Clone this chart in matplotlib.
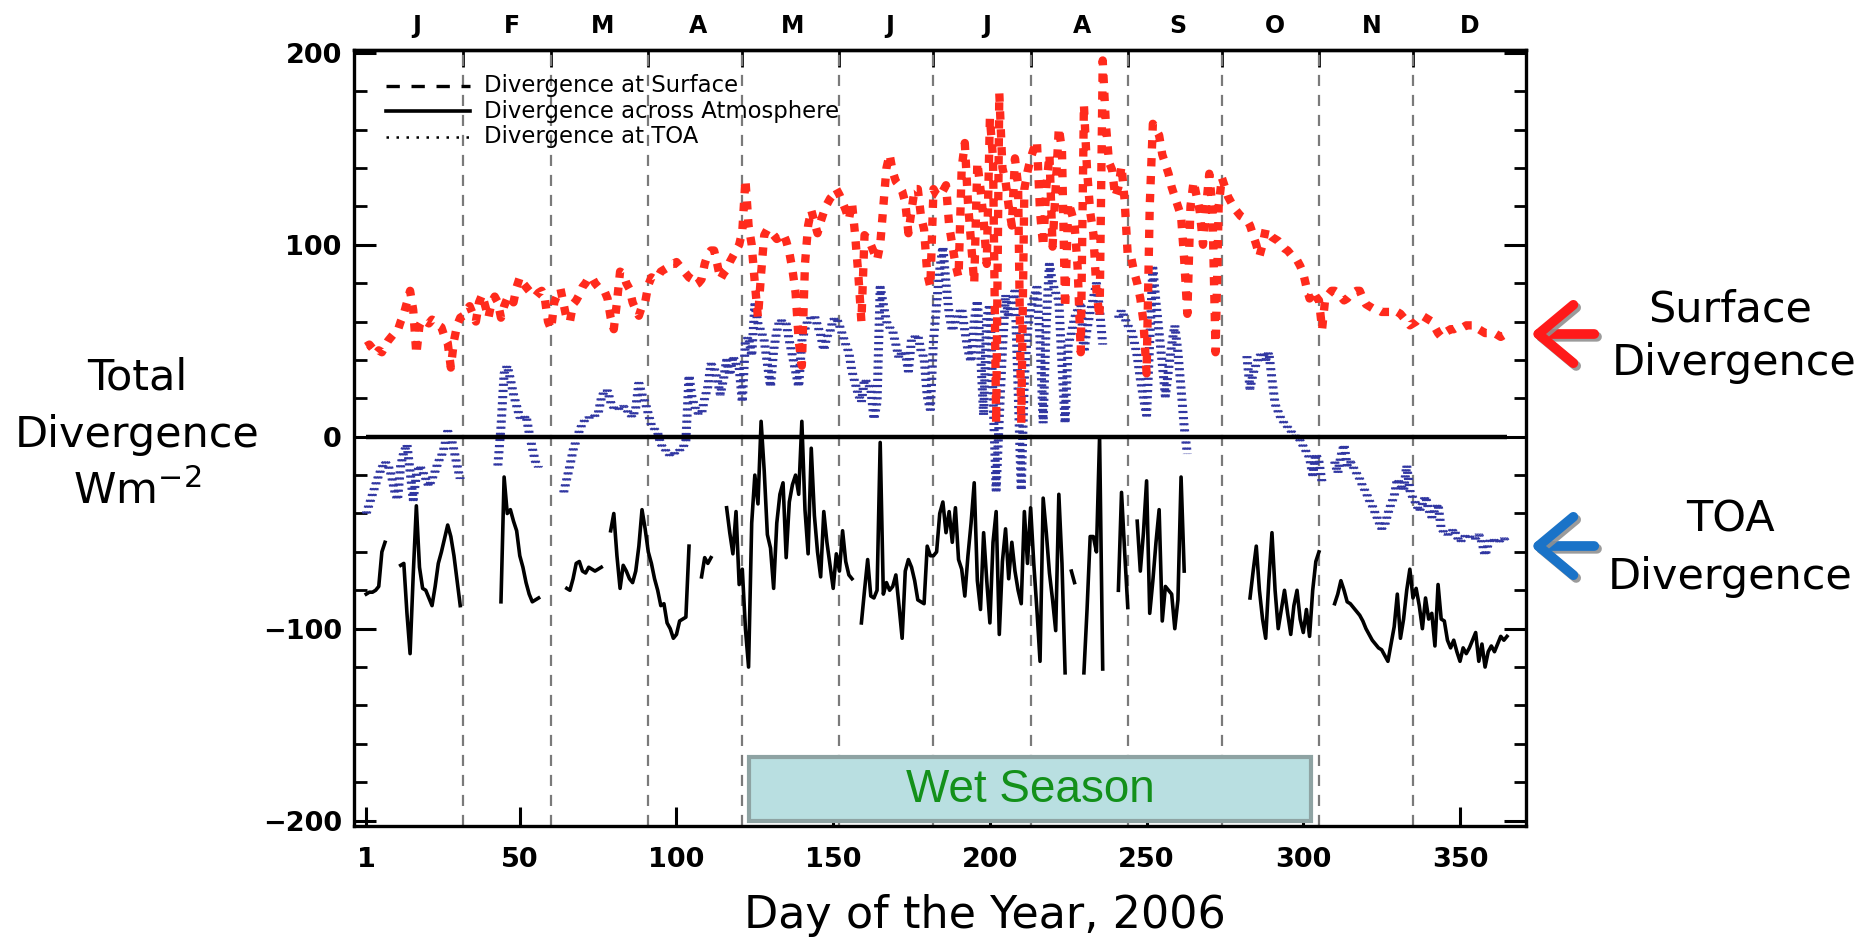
import numpy as np
import matplotlib
matplotlib.use("Agg")
import matplotlib.pyplot as plt
from matplotlib.patches import Rectangle, FancyArrowPatch
import matplotlib.patheffects as pe

nan = np.nan

# ---------------- data (day of year 1..365) ----------------
days = np.arange(1, 366)

surface = (
    [47, 48, 46, 43, 45, 44, 47, 50, 52, 54, 55, 60, 64, 70, 76, 66, 43, 58, 61, 60, 59, 61, 60, 58, 57, 52, 49, 36, 50, 58, 62]
    + [63, 66, 68, 64, 60, 70, 74, 68, 62, 70, 73, 70, 62, 68, 72, 73, 70, 78, 83, 80, 78, 76, 74, 73, 75, 76, 72, 60]
    + [56, 70, 74, 77, 69, 61, 60, 69, 71, 74, 78, 80, 83, 83, 80, 78, 77, 76, 72, 62, 56, 70, 86, 85, 80, 77, 70, 66, 63, 68, 70]
    + [79, 83, 82, 83, 86, 87, 88, 90, 90, 91, 89, 87, 85, 83, 82, 79, 80, 82, 90, 95, 97, 97, 90, 82, 85, 87, 91, 94, 97, 100]
    + [107, 134, 110, 100, 80, 62, 85, 105, 108, 107, 105, 103, 104, 106, 102, 96, 87, 75, 50, 37, 90, 110, 118, 112, 106, 112, 117, 121, 124, 126, 129]
    + [126, 122, 118, 113, 122, 105, 85, 60, 105, 103, 100, 96, 92, 100, 120, 140, 147, 138, 133, 131, 128, 122, 106, 118, 129, 129, 115, 108, 85, 78]
    + [129, 126, 125, 128, 131, 110, 100, 90, 83, 140, 153, 122, 101, 80, 143, 129, 113, 90, 166, 145, 7, 179, 140, 133, 120, 110, 145, 131, 7, 129, 138]
    + [145, 150, 154, 117, 99, 130, 147, 99, 130, 161, 149, 67, 122, 117, 111, 88, 44, 173, 139, 117, 106, 76, 62, 196, 163, 143, 139, 125, 130, 141, 123]
    + [94, 94, 86, 80, 72, 60, 33, 120, 163, 160, 157, 147, 142, 137, 130, 125, 120, 115, 92, 64, 120, 133, 125, 117, 100, 120, 137, 119, 44, 120]
    + [135, 130, 125, 122, 119, 117, 115, 114, 113, 110, 105, 100, 94, 100, 108, 106, 104, 103, 102, 100, 98, 97, 95, 94, 92, 89, 85, 78, 72, 76, 73]
    + [71, 56, 72, 74, 76, 76, 75, 73, 71, 72, 74, 75, 76, 76, 72, 69, 68, 67, 66, 66, 65, 65, 65, 65, 64, 65, 64, 62, 60, 58]
    + [59, 60, 62, 63, 62, 61, 60, 57, 54, 52, 54, 55, 56, 56, 57, 57, 57, 58, 58, 58, 58, 56, 55, 54, 54, 54, 54, 53, 52, 53, 52]
)

toa = (
    [-40, -35, -30, -25, -20, -16, -13, -15, -20, -28, -33, -15, -8, -4, -18, -33, -20, -15, -18, -22, -26, -22, -18, -13, -10, -5, 3, 0, -7, -15, -22]
    + [nan] * 11 + [-15, 5, 33, 37, 30, 22, 16, 10, 9, 11, 2, -6, -13, -16] + [nan] * 3
    + [nan] * 4 + [-29, -22, -15, -7, -2, 3, 7, 9, 10, 10, 11, 12, 20, 24, 24, 18, 15, 14, 15, 16, 14, 12, 10, 15, 28, 22, 18]
    + [12, 6, 4, 2, -4, -6, -8, -10, -9, -8, -7, -6, -2, 32, 20, 15, 12, 12, 20, 26, 38, 36, 30, 22, 30, 40, 32, 42, 38, 36]
    + [18, 50, 52, 42, 69, 59, 55, 50, 38, 26, 45, 55, 61, 60, 59, 50, 42, 34, 26, 50, 56, 61, 62, 63, 58, 53, 45, 52, 55, 61, 62]
    + [58, 53, 48, 44, 34, 28, 22, 18, 30, 28, 25, 9, 18, 78, 69, 60, 57, 55, 48, 41, 44, 44, 34, 51, 52, 53, 45, 41, 21, 14]
    + [50, 69, 87, 99, 80, 64, 55, 60, 64, 67, 55, 45, 39, 60, 71, 44, 11, 62, 69, 20, -28, 10, 45, 74, 62, 70, 76, 25, -28, 30, 55]
    + [67, 72, 78, 50, 7, 60, 90, 80, 75, 71, 37, 7, 48, 54, 62, 66, 70, 44, 56, 65, 72, 80, 66, 48, nan, nan, nan, nan, 62, 66, 62]
    + [58, 56, 50, 42, 30, 20, 11, 50, 88, 70, 54, 38, 21, 35, 48, 58, 44, 25, 5, -9] + [nan] * 10
    + [nan] * 8 + [42, 25, 33, 38, 42, 44, 40, 44, 30, 17, 13, 9, 7, 5, 3, 1, 0, -2, -5, -8, -11, -20, -9]
    + [-13, -24, nan, nan, nan, -13, -19, -10, -4, -15, -13, -16, -19, -22, -26, -29, -33, -36, -40, -44, -48, -46, -40, -35, -31, -22, -25, -28, -15, -28]
    + [-32, -35, -39, -35, -31, -38, -42, -38, -35, -48, -50, -51, -50, -48, -52, -55, -53, -51, -52, -53, -53, -51, -55, -62, -56, -53, -54, -55, -54, -53, -55]
)

atmos = (
    [-82, -81, -81, -80, -78, -60, -55, nan, nan, nan, nan, -67, -66, -92, -113, -72, -36, -68, -79, -80, -84, -88, -78, -66, -60, -53, -46, -52, -62, -75, -88]
    + [nan] * 12 + [-86, -21, -40, -38, -44, -49, -62, -68, -76, -82, -86, -85, -84] + [nan] * 3
    + [nan] * 5 + [-79, -80, -74, -66, -65, -70, -71, -68, -69, -70, -69, -68, nan, nan, -49, -40, -62, -79, -67, -70, -74, -76, -70, -57, -38, -48]
    + [-60, -66, -74, -80, -88, -87, -97, -100, -105, -103, -96, -95, -94, -57, nan, nan, nan, -73, -63, -66, -63, nan, nan, nan, nan, -37, -50, -61, -39, -77]
    + [-69, -100, -120, -45, -20, -35, 8, -18, -51, -58, -79, -45, -30, -24, -63, -34, -25, -20, -30, 8, -38, -61, -6, -41, -60, -73, -39, -55, -67, -79, -61]
    + [-70, -49, -65, -72, -74, nan, nan, -97, -80, -64, -83, -84, -80, -3, -82, -76, -80, -78, -72, -88, -105, -70, -64, -68, -75, -85, -86, -87, -57, -62]
    + [-62, -60, -40, -34, -50, -39, -55, -37, -64, -69, -83, -62, -45, -24, -75, -90, -50, -75, -97, -55, -39, -103, -65, -48, -74, -55, -70, -80, -87, -39, -66]
    + [-37, -66, -90, -117, -32, -50, -71, -85, -101, -30, -66, -123, nan, -70, -76, nan, nan, -123, -90, -52, -52, -60, 0, -121, nan, nan, nan, nan, -80, -29, -60]
    + [-89, nan, nan, -44, -70, -50, -23, -92, -75, -55, -38, -96, -78, -80, -82, -100, -85, -21, -70] + [nan] * 11
    + [nan] * 9 + [-84, -70, -57, -80, -95, -105, -75, -50, -80, -100, -90, -80, -92, -103, -88, -80, -95, -102, -90, -104, -80, -65]
    + [-60, nan, nan, nan, nan, -87, -82, -75, -80, -86, -87, -89, -91, -93, -96, -100, -103, -106, -108, -110, -111, -114, -117, -108, -99, -82, -105, -95, -80, -69]
    + [-84, -79, -88, -100, -84, -95, -92, -109, -77, -95, -96, -106, -110, -106, -112, -117, -110, -113, -110, -106, -102, -117, -108, -120, -112, -109, -112, -108, -104, -106, -104]
)

month_starts = [32, 60, 91, 121, 152, 182, 213, 244, 274, 305, 335]
month_centers = [17, 47.5, 76.5, 107, 137, 168, 199, 229.5, 260, 291, 322, 353]
month_labels = ["J", "F", "M", "A", "M", "J", "J", "A", "S", "O", "N", "D"]
x_ticks = [1, 50, 100, 150, 200, 250, 300, 350]
wet_start, wet_end = 123.2, 302.6

assert len(surface) == 365 and len(toa) == 365 and len(atmos) == 365

surface = np.array(surface, dtype=float)
toa = np.array(toa, dtype=float)
atmos = np.array(atmos, dtype=float)

# ---------------- figure ----------------
W, H = 1864, 943
fig = plt.figure(figsize=(W / 100, H / 100), dpi=100)
fig.patch.set_facecolor("white")
L, R, T, B = 354.3, 1525.5, 49.9, 826.4
ax = fig.add_axes([L / W, 1 - B / H, (R - L) / W, (B - T) / H])

ax.set_xlim(-2.8, 370.9)
ax.set_ylim(-203, 201.5)

for m in month_starts:
    ax.axvline(m, color="#7a7a7a", lw=1.6, dashes=(5, 4), zorder=1)

# TOA: dotted line, spread horizontally so steep parts look like stacked short dashes
blue_fx = [pe.Stroke(offset=(dx, 0)) for dx in (-2.4, -1.2, 0.0, 1.2, 2.4)]
ax.plot(days, toa, color="#3036a2", lw=1.7, linestyle=(0, (0.9, 1.7)), zorder=2,
        path_effects=blue_fx)
ax.plot(days, surface, color="#ff2a1c", lw=6.0, linestyle=(0, (1.0, 1.15)),
        solid_capstyle="butt", dash_capstyle="butt", zorder=3)
ax.plot(days, atmos, color="black", lw=2.6, zorder=4)
ax.hlines(0, days[0], days[-1], color="black", lw=3.2, zorder=5)

# axes style
for s in ax.spines.values():
    s.set_linewidth(2.4)
ax.set_yticks([-200, -100, 0, 100, 200])
ax.set_yticks(np.arange(-200, 201, 20), minor=True)
ax.set_xticks(x_ticks)
ax.set_xticklabels([str(v) for v in x_ticks])
ax.tick_params(axis="y", which="major", direction="in", length=16, width=2.2,
               left=True, right=True, pad=9)
ax.tick_params(axis="y", which="minor", direction="in", length=9, width=2.0,
               left=True, right=True)
ax.tick_params(axis="x", which="major", direction="in", length=14, width=2.2,
               top=False, bottom=True, pad=15)
for lab in ax.get_xticklabels() + ax.get_yticklabels():
    lab.set_fontfamily("DejaVu Sans")
    lab.set_fontweight("bold")
    lab.set_fontsize(19.5)

sec = ax.secondary_xaxis("top")
sec.set_xticks(month_starts)
sec.set_xticklabels([])
sec.tick_params(axis="x", direction="in", length=12, width=2.0)
sec.spines["top"].set_linewidth(2.4)

for xc, lab in zip(month_centers, month_labels):
    ax.text(xc, 1.031, lab, transform=ax.get_xaxis_transform(), ha="center", va="center",
            fontsize=17, fontweight="bold", family="DejaVu Sans")

# legend (drawn manually)
leg_rows = [0.954, 0.921, 0.888]
leg_txt = ["Divergence at Surface", "Divergence across Atmosphere", "Divergence at TOA"]
leg_styles = [dict(lw=2.4, dashes=(4, 3.5)), dict(lw=2.6), dict(lw=1.8, linestyle=(0, (1, 3)))]
for yy, txt, st in zip(leg_rows, leg_txt, leg_styles):
    ax.plot([0.027, 0.099], [yy, yy], transform=ax.transAxes, color="black", **st)
    ax.text(0.111, yy, txt, transform=ax.transAxes, ha="left", va="center",
            fontsize=16.4, family="DejaVu Sans")

# wet season box
ax.add_patch(Rectangle((wet_start, -200), wet_end - wet_start, 33, facecolor="#b9dfe1",
                       edgecolor="#8ea3a3", lw=3, zorder=6))
ax.text((wet_start + wet_end) / 2, -184, "Wet Season", ha="center", va="center",
        fontsize=33, color="#13901a", family="Liberation Sans", zorder=7)

# outer texts
def ftext(x, y, s, **kw):
    fig.text(x / W, 1 - y / H, s, ha="center", va="center", family="DejaVu Sans",
             fontsize=31, **kw)

ftext(137, 377, "Total")
ftext(137, 435, "Divergence")
ftext(137, 492, "Wm$^{-2}$")
ftext(1730, 309, "Surface")
ftext(1734, 363, "Divergence")
ftext(1730, 520, "TOA")
ftext(1730, 577, "Divergence")
fig.text(984.5 / W, 1 - 915.5 / H, "Day of the Year, 2006", ha="center", va="center",
         family="DejaVu Sans", fontsize=32)

# arrows
for yy, col in [(334, "#ff1a1a"), (546, "#1a73c8")]:
    arr = FancyArrowPatch((1597 / W, 1 - yy / H), (1528 / W, 1 - yy / H),
                          transform=fig.transFigure, arrowstyle="->,head_length=0.6,head_width=0.5",
                          mutation_scale=42, lw=7, color=col, capstyle="round", joinstyle="round")
    arr.set_path_effects([pe.SimpleLineShadow(offset=(2, -2), shadow_color="#909090", alpha=0.9),
                          pe.Normal()])
    fig.add_artist(arr)

fig.savefig("out.png", dpi=100, facecolor="white")
